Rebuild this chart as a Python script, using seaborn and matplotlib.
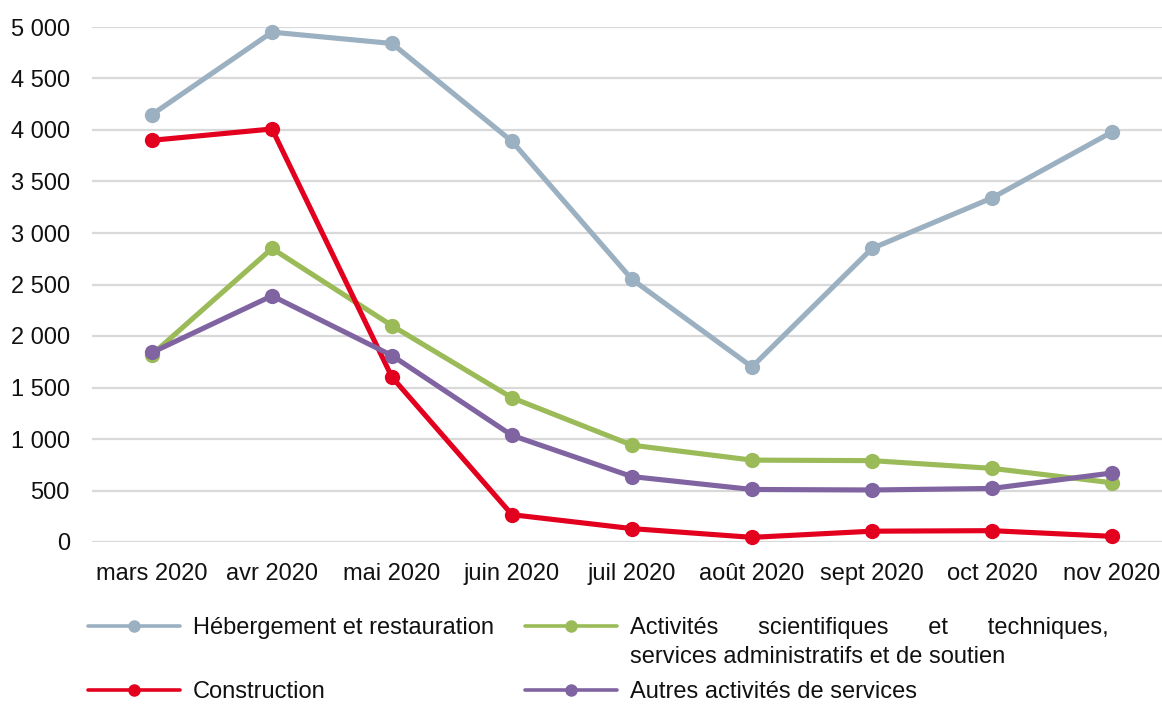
import matplotlib
matplotlib.use("Agg")
import matplotlib.pyplot as plt
from matplotlib.lines import Line2D
from matplotlib.ticker import FuncFormatter, MultipleLocator
import seaborn as sns
import pandas as pd

months = ["mars 2020", "avr 2020", "mai 2020", "juin 2020", "juil 2020",
          "août 2020", "sept 2020", "oct 2020", "nov 2020"]

hebergement = [4150, 4950, 4840, 3890, 2550, 1700, 2850, 3340, 3980]
activites = [1820, 2850, 2100, 1400, 940, 795, 790, 715, 575]
construction = [3900, 4010, 1600, 265, 130, 45, 105, 110, 55]
autres = [1840, 2390, 1810, 1035, 635, 510, 505, 520, 670]

series_names = ["Hébergement et restauration",
                "Activités scientifiques et techniques, services administratifs et de soutien",
                "Construction",
                "Autres activités de services"]
series_values = [hebergement, activites, construction, autres]
colors = ["#9BB0C1", "#9BBB59", "#E3001F", "#8064A2"]

# legend text: first line justified across the column, second line below it
legend_first = ["Hébergement et restauration",
                "Activités      scientifiques      et      techniques,",
                "Construction",
                "Autres activités de services"]
legend_second = [None, "services administratifs et de soutien", None, None]

df = pd.DataFrame({
    "mois": months * len(series_names),
    "valeur": [v for vals in series_values for v in vals],
    "secteur": [n for n in series_names for _ in months],
})

sns.set_theme(style="white")
plt.rcParams["font.family"] = ["Liberation Sans", "DejaVu Sans"]
FS = 17
TXT = "#111111"

W, H = 1162, 704
fig = plt.figure(figsize=(W / 100, H / 100), dpi=100)
ax = fig.add_axes([92 / W, (H - 542) / H, 1080 / W, 515 / H])

sns.lineplot(data=df, x="mois", y="valeur", hue="secteur", hue_order=series_names,
             palette=colors, marker="o", markersize=11, markeredgewidth=0,
             linewidth=3.7, legend=False, ax=ax, sort=False)
for line in ax.lines:
    line.set_clip_on(False)

ax.set_xlim(-0.5, 8.5)
ax.set_ylim(0, 5000)
ax.yaxis.set_major_locator(MultipleLocator(500))
ax.yaxis.set_major_formatter(FuncFormatter(lambda v, p: f"{int(v):,}".replace(",", " ")))
ax.grid(axis="y", color="#D9D9D9", linewidth=1.6)
ax.set_axisbelow(True)
for s in ax.spines.values():
    s.set_visible(False)
ax.tick_params(axis="both", length=0, labelsize=FS, colors=TXT)
ax.tick_params(axis="y", pad=16)
ax.tick_params(axis="x", pad=15)
ax.set_xlabel("")
ax.set_ylabel("")

# legend: two columns, each entry anchored at its own row
positions = [(88, 628), (525, 628), (88, 692), (525, 692)]
legends = []
for label, color, (px, py) in zip(legend_first, colors, positions):
    handle = Line2D([], [], color=color, linewidth=2.6, marker="o", markersize=9,
                    markeredgewidth=0)
    leg = fig.legend([handle], [label], loc="center left",
                     bbox_to_anchor=(px / W, (H - py) / H),
                     frameon=False, fontsize=FS, handlelength=3.9,
                     handletextpad=0.55, borderpad=0, borderaxespad=0)
    for t in leg.get_texts():
        t.set_color(TXT)
    legends.append(leg)

fig.canvas.draw()
renderer = fig.canvas.get_renderer()
for leg, extra in zip(legends, legend_second):
    if extra is None:
        continue
    t = leg.get_texts()[0]
    bb = t.get_window_extent(renderer)
    fig.text(bb.x0 / W, (bb.y0 + bb.y1) / 2 / H - 29 / H, extra,
             fontsize=FS, color=TXT, ha="left", va="center")

fig.savefig("out.png", dpi=100)
